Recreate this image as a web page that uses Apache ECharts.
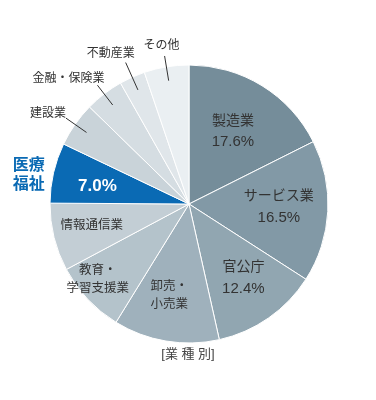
<!DOCTYPE html>
<html>
<head>
<meta charset="utf-8">
<script src="https://cdn.jsdelivr.net/npm/echarts@6/dist/echarts.min.js"></script>
<style>
    html, body { margin: 0; padding: 0; background: #fff; }
    #chart { width: 376px; height: 400px; }
</style>
</head>
<body>
<div id="chart"></div>
<script>
    // data
    const categories = ['製造業', 'サービス業', '官公庁', '卸売・小売業', '教育・学習支援業', '情報通信業',
        '医療福祉', '建設業', '金融・保険業', '不動産業', 'その他'];
    const shares = [17.6, 16.5, 12.4, 12.3, 8.4, 7.9, 7.0, 5.2, 4.5, 3.0, 5.2];
    const subtitle = '[業 種 別]';

    const sliceColors = ['#758d9a', '#8299a6', '#91a6b1', '#9fb1bc', '#b4c3cb', '#c3ced5',
        '#0a6ab4', '#c9d3d9', '#d5dde2', '#e0e6ea', '#eaeff2'];
    const FONT = '"Liberation Sans", "Noto Sans CJK JP", sans-serif';
    const center = [189, 204];
    const highlight = 6; // 医療福祉

    // small nudges for the label text (px)
    const innerShift = [[-6, 8], [-5, -2], [0, -4], [-4, -2], [-22, 11], [-5, -1], [1, 4]];
    const outerShift = {6: [2, 5], 7: [0, -4], 8: [7, -7], 9: [9, -9], 10: [15, -10]};

    function innerText(i) {
        const name = categories[i];
        if (i < 3) return '{n|' + name + '}\n{v|' + shares[i].toFixed(1) + '%}';
        if (i === highlight) return shares[i].toFixed(1) + '%';
        if (name.indexOf('・') > 0) return name.replace('・', '・\n');
        return name;
    }

    let innerData = [], outerData = [], pieData = [];
    for (let i = 0; i < categories.length; i++) {
        pieData.push({name: categories[i], value: shares[i], itemStyle: {color: sliceColors[i]}});

        let inLabel = {show: i <= highlight, formatter: innerText(i)};
        if (i === highlight) {
            inLabel.color = '#fff';
            inLabel.fontSize = 17;
            inLabel.fontWeight = 'bold';
        }
        innerData.push({name: categories[i], value: shares[i], label: inLabel});

        let outItem = {name: categories[i], value: shares[i]};
        if (i < highlight) {
            outItem.label = {show: false};
            outItem.labelLine = {show: false};
        } else if (i === highlight) {
            outItem.label = {
                show: true,
                formatter: categories[i].slice(0, 2) + '\n' + categories[i].slice(2),
                color: sliceColors[i],
                fontSize: 16,
                fontWeight: 'bold',
                lineHeight: 19
            };
            outItem.labelLine = {show: false};
        } else if (i === 9) {
            outItem.labelLine = {length: 30};
        }
        outerData.push(outItem);
    }

    const chart = echarts.init(document.getElementById('chart'));
    const option = {
        backgroundColor: '#fff',
        animation: false,
        title: {
            text: subtitle,
            left: 'center',
            top: 343,
            textStyle: {fontSize: 13, fontWeight: 'normal', color: '#444', fontFamily: FONT}
        },
        series: [{
            type: 'pie',
            center: center,
            radius: 139,
            startAngle: 90,
            silent: true,
            z: 2,
            label: {show: false},
            labelLine: {show: false},
            itemStyle: {borderColor: '#fff', borderWidth: 1},
            data: pieData
        }, {
            type: 'pie',
            center: center,
            radius: [0, 184],
            startAngle: 90,
            silent: true,
            z: 5,
            avoidLabelOverlap: false,
            itemStyle: {color: 'rgba(0,0,0,0)', borderWidth: 0},
            label: {
                show: true,
                position: 'inside',
                color: '#333',
                fontFamily: FONT,
                fontSize: 12.5,
                lineHeight: 18,
                rich: {
                    n: {fontSize: 14, lineHeight: 21, color: '#333', fontFamily: FONT},
                    v: {fontSize: 15, lineHeight: 21, color: '#333', fontFamily: FONT}
                }
            },
            labelLine: {show: false},
            labelLayout: function (p) {
                const s = innerShift[p.dataIndex] || [0, 0];
                return {dx: s[0], dy: s[1]};
            },
            data: innerData
        }, {
            type: 'pie',
            center: center,
            radius: 125,
            startAngle: 90,
            silent: true,
            z: 10,
            avoidLabelOverlap: false,
            itemStyle: {color: 'rgba(0,0,0,0)', borderWidth: 0},
            label: {
                show: true,
                position: 'outside',
                alignTo: 'none',
                distanceToLabelLine: 0,
                bleedMargin: 0,
                color: '#333',
                fontFamily: FONT,
                fontSize: 12
            },
            labelLine: {show: true, length: 25, length2: 0, lineStyle: {color: '#333', width: 1}},
            labelLayout: function (p) {
                const s = outerShift[p.dataIndex] || [0, 0];
                return {dx: s[0], dy: s[1], labelLinePoints: p.labelLinePoints};
            },
            data: outerData
        }]
    };
    chart.setOption(option);
</script>
</body>
</html>
